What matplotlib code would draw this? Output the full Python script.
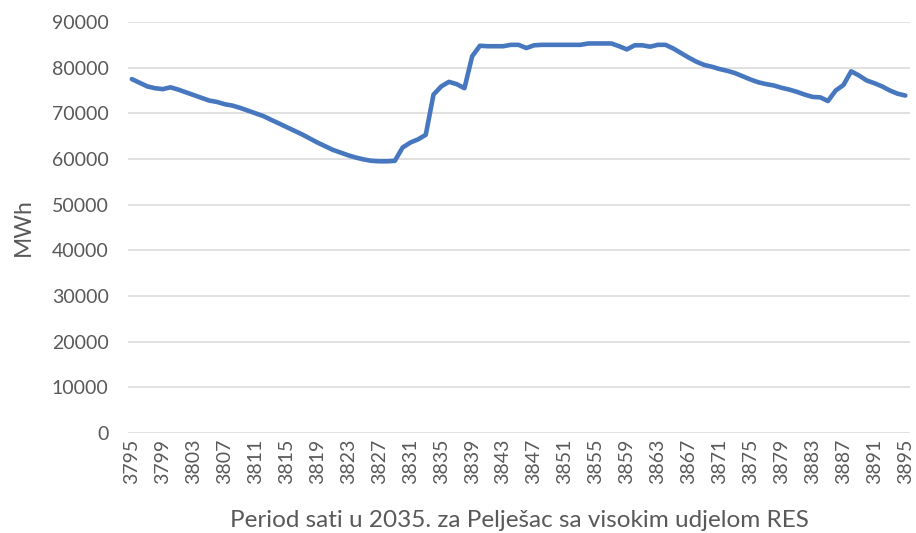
import numpy as np
import matplotlib
matplotlib.use("Agg")
import matplotlib.pyplot as plt

# Hourly energy for Pelješac, hours 3795-3895 of 2035
hours = np.arange(3795, 3896)
mwh = [
    77500, 76700, 75900, 75500, 75300, 75700, 75200, 74600, 74000, 73400,
    72800, 72500, 72000, 71700, 71200, 70600, 70000, 69400, 68600, 67800,
    67000, 66200, 65400, 64500, 63600, 62800, 62000, 61400, 60800, 60300,
    59900, 59600, 59500, 59500, 59600, 62500, 63600, 64300, 65300, 74100,
    75900, 76900, 76400, 75500, 82500, 84800, 84700, 84700, 84700, 85000,
    85000, 84300, 84900, 85000, 85000, 85000, 85000, 85000, 85000, 85300,
    85300, 85300, 85300, 84700, 84000, 84900, 84900, 84600, 85000, 85000,
    84200, 83200, 82200, 81300, 80600, 80200, 79700, 79300, 78800, 78100,
    77400, 76800, 76400, 76100, 75600, 75200, 74700, 74100, 73600, 73500,
    72700, 75000, 76200, 79200, 78300, 77200, 76600, 75900, 75000, 74300,
    73900,
]
yticks = np.arange(0, 90001, 10000)
xtick_hours = hours[::4]

TEXT = "#595959"
plt.rcParams['font.family'] = ['Lato', 'DejaVu Sans']

fig = plt.figure(figsize=(9.16, 5.33), dpi=100)
ax = fig.add_axes([0.1397, 0.1876, 0.8537, 0.7711])

ax.plot(hours, mwh, color="#4677BF", linewidth=3.3, solid_capstyle="round",
        solid_joinstyle="round", zorder=3)

ax.set_xlim(3794.5, 3895.6)
ax.set_ylim(0, 90000)
ax.set_yticks(yticks)
ax.set_yticklabels([str(v) for v in yticks])
ax.set_xticks(xtick_hours)
ax.set_xticklabels([str(h) for h in xtick_hours], rotation=90)

ax.grid(axis="y", color="#D9D9D9", linewidth=1.1)
ax.set_axisbelow(True)
for s in ax.spines.values():
    s.set_visible(False)
ax.tick_params(axis="both", length=0, colors=TEXT, labelsize=14)
ax.tick_params(axis="y", pad=14)
ax.tick_params(axis="x", pad=4)

ax.set_ylabel("MWh", color=TEXT, fontsize=16.5, labelpad=13)
ax.set_xlabel("Period sati u 2035. za Pelješac sa visokim udjelom RES",
              color=TEXT, fontsize=17.5, labelpad=19)

fig.savefig("out.png", dpi=100, facecolor="white")
